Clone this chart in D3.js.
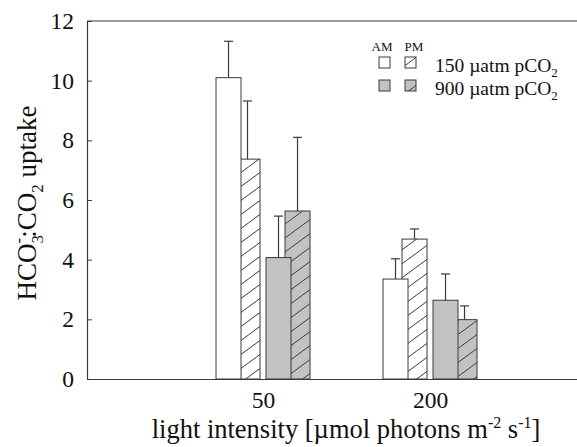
<!DOCTYPE html>
<html>
<head>
<meta charset="utf-8">
<script src="https://d3js.org/d3.v7.min.js"></script>
<style>
  body { margin: 0; background: #fff; }
  svg { display: block; }
  text { font-family: "Liberation Serif", "Times New Roman", serif; fill: #111; }
</style>
</head>
<body>
<div id="chart"></div>
<script>
// light intensity groups
const categories = ['50', '200'];
const yTicks = [0, 2, 4, 6, 8, 10, 12];

// HCO3-:CO2 uptake, mean and error (upper bar only)
const am150 = [10.1, 3.35];
const am150Err = [1.22, 0.68];
const pm150 = [7.37, 4.69];
const pm150Err = [1.95, 0.34];
const am900 = [4.07, 2.64];
const am900Err = [1.39, 0.88];
const pm900 = [5.63, 1.99];
const pm900Err = [2.47, 0.46];

const width = 577, height = 447;
const margin = {top: 21, left: 87, bottom: 68};
const serif = '"Liberation Serif", "Times New Roman", serif';

const svg = d3.select('#chart').append('svg')
    .attr('width', width)
    .attr('height', height);

const gray = '#c2c2c2';
const ink = '#3a3a3a';

// hatch patterns
const defs = svg.append('defs');
function hatch(id, bg) {
  const w = 19, h = 14;
  const p = defs.append('pattern')
      .attr('id', id)
      .attr('patternUnits', 'userSpaceOnUse')
      .attr('width', w)
      .attr('height', h);
  p.append('rect').attr('width', w).attr('height', h).attr('fill', bg);
  p.append('path')
      .attr('d', `M${-w * 0.25},${h * 1.25} L${w * 1.25},${-h * 0.25}` +
                 `M${-w * 0.25},${h * 0.25} L${w * 0.25},${-h * 0.25}` +
                 `M${w * 0.75},${h * 1.25} L${w * 1.25},${h * 0.75}`)
      .attr('stroke', ink)
      .attr('stroke-width', 1);
}
hatch('hatchWhite', '#fff');
hatch('hatchGray', gray);

// scales: groups sit at positions 1 and 2
const x = d3.scaleLinear().domain([-0.054, 2.9]).range([margin.left, margin.left + 2.954 * 167]);
const y = d3.scaleLinear().domain([0, 12]).range([height - margin.bottom, margin.top]);

// series, drawn PM first so the AM bar sits over it
const barW = 25;
const series = [
  {vals: pm150, err: pm150Err, off: -15.5, fill: 'url(#hatchWhite)'},
  {vals: am150, err: am150Err, off: -34.5, fill: '#fff'},
  {vals: pm900, err: pm900Err, off: 34.5, fill: 'url(#hatchGray)'},
  {vals: am900, err: am900Err, off: 15.5, fill: gray}
];

const bars = svg.append('g');
series.forEach(s => {
  bars.selectAll(null)
      .data(s.vals)
      .enter().append('rect')
      .attr('x', (d, i) => x(i + 1) + s.off - barW / 2)
      .attr('y', d => y(d))
      .attr('width', barW)
      .attr('height', d => y(0) - y(d))
      .attr('fill', s.fill)
      .attr('stroke', ink)
      .attr('stroke-width', 1);
});

// error bars
const errs = svg.append('g').attr('stroke', ink).attr('stroke-width', 1.2);
series.forEach(s => {
  s.vals.forEach((v, i) => {
    const cx = x(i + 1) + s.off;
    errs.append('line')
        .attr('x1', cx).attr('x2', cx)
        .attr('y1', y(v)).attr('y2', y(v + s.err[i]));
    errs.append('line')
        .attr('x1', cx - 4.5).attr('x2', cx + 4.5)
        .attr('y1', y(v + s.err[i])).attr('y2', y(v + s.err[i]));
  });
});

// axes
const yAxis = d3.axisLeft(y).tickValues(yTicks).tickSizeInner(-5).tickSizeOuter(0).tickPadding(13);
const gy = svg.append('g')
    .attr('transform', `translate(${margin.left},0)`)
    .call(yAxis)
    .attr('font-family', serif);
gy.select('.domain').attr('stroke', ink).attr('stroke-width', 1.2);
gy.selectAll('.tick line').attr('stroke', ink);
gy.selectAll('.tick text').style('font-size', '23.5px').attr('fill', '#111');

const xAxis = d3.axisBottom(x).tickValues([1, 2]).tickFormat((d, i) => categories[i])
    .tickSize(0).tickPadding(12);
const gx = svg.append('g')
    .attr('transform', `translate(0,${y(0)})`)
    .call(xAxis)
    .attr('font-family', serif);
gx.select('.domain').attr('stroke', ink).attr('stroke-width', 1.2);
gx.selectAll('.tick text').style('font-size', '23.5px').attr('fill', '#111');

// top frame line
svg.append('line')
    .attr('x1', margin.left).attr('x2', width)
    .attr('y1', y(12)).attr('y2', y(12))
    .attr('stroke', ink).attr('stroke-width', 1.2);

// axis titles
const yt = svg.append('text')
    .attr('transform', 'translate(36,203) rotate(-90)')
    .attr('text-anchor', 'middle')
    .style('font-size', '27px');
yt.append('tspan').text('HCO');
yt.append('tspan').attr('dy', 7).style('font-size', '17px').text('3');
yt.append('tspan').attr('dx', -8.5).attr('dy', -19).style('font-size', '17px').text('-');
yt.append('tspan').attr('dy', 12).text(':CO');
yt.append('tspan').attr('dy', 7).style('font-size', '17px').text('2');
yt.append('tspan').attr('dy', -7).text(' uptake');

const xt = svg.append('text')
    .attr('x', 346).attr('y', 438)
    .attr('text-anchor', 'middle')
    .style('font-size', '26.5px');
xt.append('tspan').text('light intensity [\u00b5mol photons m');
xt.append('tspan').attr('dy', -10).style('font-size', '16px').text('-2');
xt.append('tspan').attr('dy', 10).text(' s');
xt.append('tspan').attr('dy', -10).style('font-size', '16px').text('-1');
xt.append('tspan').attr('dy', 10).text(']');

// legend
const leg = svg.append('g');
leg.append('text').attr('x', 382).attr('y', 51).attr('text-anchor', 'middle')
    .style('font-size', '13px').text('AM');
leg.append('text').attr('x', 414).attr('y', 51).attr('text-anchor', 'middle')
    .style('font-size', '13px').text('PM');
const legRows = [
  {label: '150 \u00b5atm pCO', am: '#fff', pm: 'url(#hatchWhite)'},
  {label: '900 \u00b5atm pCO', am: gray, pm: 'url(#hatchGray)'}
];
legRows.forEach((r, i) => {
  const ty = 57 + i * 23;
  leg.append('rect').attr('x', 379).attr('y', ty).attr('width', 11).attr('height', 11)
      .attr('fill', r.am).attr('stroke', ink);
  leg.append('rect').attr('x', 405).attr('y', ty).attr('width', 11).attr('height', 11)
      .attr('fill', r.pm).attr('stroke', ink);
  const t = leg.append('text').attr('x', 435).attr('y', ty + 15).style('font-size', '19.5px');
  t.append('tspan').text(r.label);
  t.append('tspan').attr('dy', 5).style('font-size', '13px').text('2');
});
</script>
</body>
</html>
